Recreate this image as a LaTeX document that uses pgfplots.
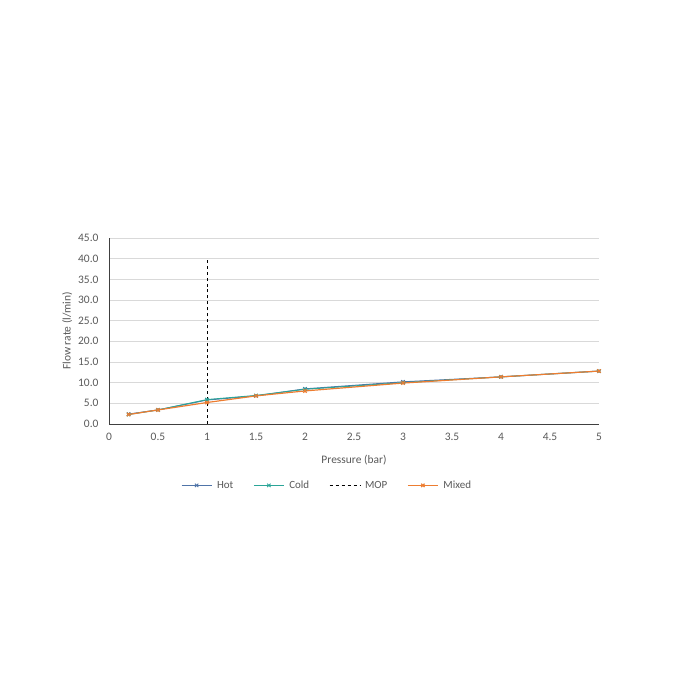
\documentclass[border=0pt]{standalone}
\usepackage{pgfplots}
\pgfplotsset{compat=1.18}
\usepackage{fontspec}
\setmainfont{Carlito}
\definecolor{txt}{HTML}{595959}
\definecolor{hotc}{HTML}{4F74A8}
\definecolor{coldc}{HTML}{2BA598}
\definecolor{mixc}{HTML}{ED7D31}
\definecolor{gridc}{HTML}{D9D9D9}
\begin{document}
\begin{tikzpicture}[x=1bp,y=1bp]
\path[use as bounding box] (0,0) rectangle (700,700);
\begin{axis}[
    at={(109bp,276bp)}, anchor=south west,
    scale only axis, width=490bp, height=186bp,
    xmin=0, xmax=5, ymin=0, ymax=45,
    xtick={0,0.5,...,5}, ytick={0,5,...,45},
    axis x line*=bottom, axis y line*=left,
    axis line style={black!75, line width=0.8pt},
    x axis line style={-}, y axis line style={-},
    ymajorgrids, grid style={gridc, line width=0.6pt},
    major tick length=0pt,
    font=\fontsize{11.5}{13}\selectfont\color{txt},
    ticklabel style={font=\fontsize{11.5}{13}\selectfont\color{txt}},
    /pgf/number format/assume math mode=true,
    yticklabel style={xshift=-7bp, /pgf/number format/.cd, fixed, fixed zerofill, precision=1},
    xticklabel style={yshift=-6bp, /pgf/number format/.cd, fixed, precision=1},
    xlabel={Pressure (bar)}, ylabel={Flow rate (l/min)},
    xlabel style={yshift=-7bp}, ylabel style={yshift=-1bp},
    legend style={at={(0.445,-0.33)}, anchor=center, draw=none, legend columns=4,
        font=\fontsize{11}{13}\selectfont\color{txt},
        /tikz/every odd column/.append style={column sep=3bp},
        /tikz/every even column/.append style={column sep=18bp}},
    legend image code/.code={\draw[mark repeat=2, mark phase=2] plot coordinates {(0bp,0bp) (15bp,0bp) (30bp,0bp)};},
    legend cell align=left,
    clip=false,
]
\addplot[hotc, line width=1pt, mark=x, mark size=2.4pt] coordinates {
    (0.2,2.4) (0.5,3.4) (1,5.8) (1.5,6.8) (2,8.5) (3,10.2) (4,11.4) (5,12.8)};
\addlegendentry{Hot}
\addplot[coldc, line width=1pt, mark=x, mark size=2.4pt] coordinates {
    (0.2,2.3) (0.5,3.4) (1,5.9) (1.5,6.9) (2,8.4) (3,10.0) (4,11.4) (5,12.8)};
\addlegendentry{Cold}
\addplot[black, line width=0.8pt, dashed] coordinates {(1,0) (1,40)};
\addlegendentry{MOP}
\addplot[mixc, line width=1.2pt, mark=x, mark size=2.4pt] coordinates {
    (0.2,2.3) (0.5,3.4) (1,5.2) (1.5,6.8) (2,8.0) (3,9.9) (4,11.4) (5,12.8)};
\addlegendentry{Mixed}
\end{axis}
\end{tikzpicture}
\end{document}
